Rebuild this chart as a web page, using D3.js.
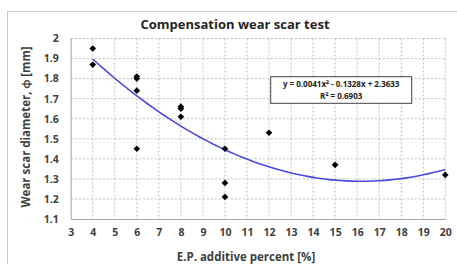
<!DOCTYPE html>
<html>
<head>
<meta charset="utf-8">
<script src="https://cdn.jsdelivr.net/npm/d3@7"></script>
<style>
  body { margin: 0; background: #fff; }
  svg text { font-family: "Open Sans", Lato, sans-serif; }
</style>
</head>
<body>
<div id="chart"></div>
<script>
// measured points: E.P. additive percent vs wear scar diameter
const percents  = [4, 4, 6, 6, 6, 6, 8, 8, 8, 10, 10, 10, 12, 15, 20];
const diameters = [1.95, 1.87, 1.81, 1.80, 1.74, 1.45, 1.66, 1.65, 1.61, 1.45, 1.28, 1.21, 1.53, 1.37, 1.32];
const xTicks = d3.range(3, 21);
const yTicks = [1.1, 1.2, 1.3, 1.4, 1.5, 1.6, 1.7, 1.8, 1.9, 2];
// trend polynomial (a x^2 + b x + c) as printed on the chart
const trendCoef = [0.0041, -0.1328, 2.3633];
const trendLabels = ["y = 0.0041x² - 0.1328x + 2.3633", "R² = 0.6903"];

const W = 457, H = 264;
const margin = { top: 38.5, right: 11.7, bottom: 45, left: 70.7 };

const svg = d3.select("#chart").append("svg")
    .attr("width", W)
    .attr("height", H);

// outer chart frame
svg.append("rect")
    .attr("x", 7.5).attr("y", 11.5)
    .attr("width", W).attr("height", H)
    .attr("fill", "#fff")
    .attr("stroke", "#c8c8c8");

const x = d3.scaleLinear().domain([3, 20]).range([margin.left, W - margin.right]);
const y = d3.scaleLinear().domain([1.1, 2]).range([219, margin.top]);

// grid
svg.append("g").selectAll("line")
    .data(xTicks.slice(1))
    .enter().append("line")
    .attr("x1", d => x(d)).attr("x2", d => x(d))
    .attr("y1", y(2)).attr("y2", y(1.1))
    .attr("stroke", "#bdbdbd")
    .attr("stroke-dasharray", "2,2");

svg.append("g").selectAll("line")
    .data(yTicks.slice(1))
    .enter().append("line")
    .attr("x1", x(3)).attr("x2", x(20))
    .attr("y1", d => y(d)).attr("y2", d => y(d))
    .attr("stroke", "#bdbdbd")
    .attr("stroke-dasharray", "2,2");

// axes
const xAxis = svg.append("g")
    .attr("transform", `translate(0,${y(1.1)})`)
    .call(d3.axisBottom(x).tickValues(xTicks).tickSize(0).tickPadding(10).tickFormat(d3.format("d")));
const yAxis = svg.append("g")
    .attr("transform", `translate(${x(3)},0)`)
    .call(d3.axisLeft(y).tickValues(yTicks).tickSize(0).tickPadding(12).tickFormat(d => d3.format("")(+d.toFixed(1))));

[xAxis, yAxis].forEach(a => {
    a.select(".domain").attr("stroke", "#a6a6a6");
    a.selectAll("text")
        .style("font-size", "10.5px")
        .style("font-weight", "bold")
        .attr("fill", "#404040");
});

// trend line
const curve = d3.range(4, 20.01, 0.25);
const line = d3.line()
    .x(d => x(d))
    .y(d => y(trendCoef[0] * d * d + trendCoef[1] * d + trendCoef[2]));
svg.append("path")
    .datum(curve)
    .attr("d", line)
    .attr("fill", "none")
    .attr("stroke", "#4a4ad8")
    .attr("stroke-width", 1.6);

// points (diamonds = rotated squares)
svg.selectAll(".pt")
    .data(percents.map((p, i) => ({ p, d: diameters[i] })))
    .enter().append("path")
    .attr("class", "pt")
    .attr("transform", d => `translate(${x(d.p)},${y(d.d)}) rotate(45)`)
    .attr("d", d3.symbol(d3.symbolSquare, 22))
    .attr("fill", "#000");

// equation box
const box = svg.append("g");
box.append("rect")
    .attr("x", 270.7).attr("y", 76.7)
    .attr("width", 141).attr("height", 26.6)
    .attr("fill", "#fff")
    .attr("stroke", "#404040")
    .attr("stroke-width", 1);
box.selectAll("text")
    .data(trendLabels)
    .enter().append("text")
    .attr("x", 341.2)
    .attr("y", (d, i) => 86.5 + i * 12)
    .attr("text-anchor", "middle")
    .style("font-size", "8px")
    .style("font-weight", "bold")
    .attr("fill", "#222")
    .text(d => d);

// titles
svg.append("text")
    .attr("x", 235).attr("y", 29)
    .attr("text-anchor", "middle")
    .style("font-size", "13px")
    .style("font-weight", "bold")
    .attr("fill", "#262626")
    .text("Compensation wear scar test");

svg.append("text")
    .attr("x", 246).attr("y", 261)
    .attr("text-anchor", "middle")
    .style("font-size", "11.5px")
    .style("font-weight", "bold")
    .attr("fill", "#404040")
    .text("E.P. additive percent [%]");

svg.append("text")
    .attr("transform", "translate(30,127) rotate(-90)")
    .attr("text-anchor", "middle")
    .style("font-size", "11.5px")
    .style("font-weight", "bold")
    .attr("fill", "#404040")
    .text("Wear scar diameter, ϕ [mm]");
</script>
</body>
</html>
